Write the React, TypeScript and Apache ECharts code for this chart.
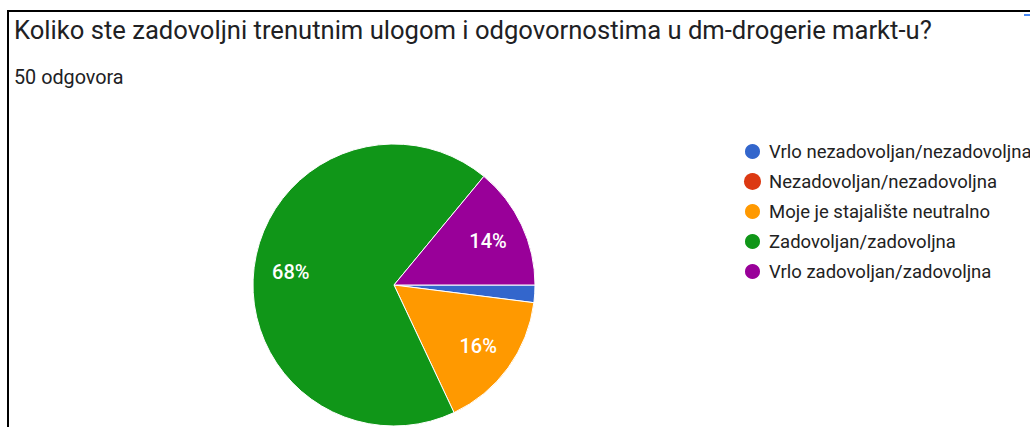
import React, { useEffect, useRef } from "react";
import * as echarts from "echarts";

const TITLE = "Koliko ste zadovoljni trenutnim ulogom i odgovornostima u dm-drogerie markt-u?";
const SUBTITLE = "50 odgovora";
const categories = [
  "Vrlo nezadovoljan/nezadovoljna",
  "Nezadovoljan/nezadovoljna",
  "Moje je stajalište neutralno",
  "Zadovoljan/zadovoljna",
  "Vrlo zadovoljan/zadovoljna",
];
const counts = [1, 0, 8, 34, 7];
const colors = ["#3366cc", "#dc3912", "#ff9900", "#109618", "#990099"];

export default function App() {
  const ref = useRef<HTMLDivElement>(null);
  useEffect(() => {
    document.body.style.margin = "0";
    const chart = echarts.init(ref.current!, null, { renderer: "svg" });
    const total = counts.reduce((a, b) => a + b, 0);
    const data = categories.map((name, i) => ({
      name,
      value: counts[i],
      itemStyle: counts[i] === 0 ? { borderWidth: 0 } : undefined,
    }));
    chart.setOption({
      animation: false,
      color: colors,
      textStyle: { fontFamily: "Roboto" },
      title: [
        {
          text: TITLE,
          left: 9,
          top: 12,
          textStyle: { fontFamily: "Roboto", fontSize: 25.6, fontWeight: "normal", color: "#202124" },
        },
        {
          text: SUBTITLE,
          left: 9,
          top: 62,
          textStyle: { fontFamily: "Roboto", fontSize: 19.8, fontWeight: "normal", color: "#202124" },
        },
      ],
      legend: {
        orient: "vertical",
        left: 738,
        top: 137,
        icon: "circle",
        itemWidth: 17,
        itemHeight: 17,
        itemGap: 11,
        data: categories,
        textStyle: {
          fontFamily: "Roboto",
          fontSize: 18.5,
          lineHeight: 17,
          color: "#222222",
          padding: [0, 0, 0, 3],
        },
        selectedMode: false,
      },
      graphic: [
        { type: "rect", shape: { x: 7, y: 10, width: 1023, height: 2 }, style: { fill: "#000" } },
        { type: "rect", shape: { x: 7, y: 10, width: 2, height: 417 }, style: { fill: "#000" } },
        { type: "rect", shape: { x: 1024, y: 14, width: 6, height: 2 }, style: { fill: "#4a8af4" } },
      ],
      series: [
        {
          type: "pie",
          center: [394, 285],
          radius: [0, 141],
          startAngle: 0,
          clockwise: true,
          silent: true,
          label: { show: false },
          labelLine: { show: false },
          itemStyle: { borderColor: "#ffffff", borderWidth: 1 },
          data,
        },
        {
          type: "pie",
          center: [394, 285],
          radius: [61, 141],
          startAngle: 0,
          clockwise: true,
          silent: true,
          itemStyle: { color: "transparent", borderWidth: 0 },
          label: {
            show: true,
            position: "inside",
            fontFamily: "Roboto",
            fontSize: 20,
            fontWeight: 500,
            color: "#ffffff",
            formatter: (p: any) => {
              const pct = (p.value / total) * 100;
              return pct >= 5 ? Math.round(pct) + "%" : "";
            },
          },
          labelLine: { show: false },
          data: categories.map((name, i) => ({ name, value: counts[i] })),
        },
      ],
    });
    return () => chart.dispose();
  }, []);
  return <div ref={ref} style={{ width: 1030, height: 427 }} />;
}
